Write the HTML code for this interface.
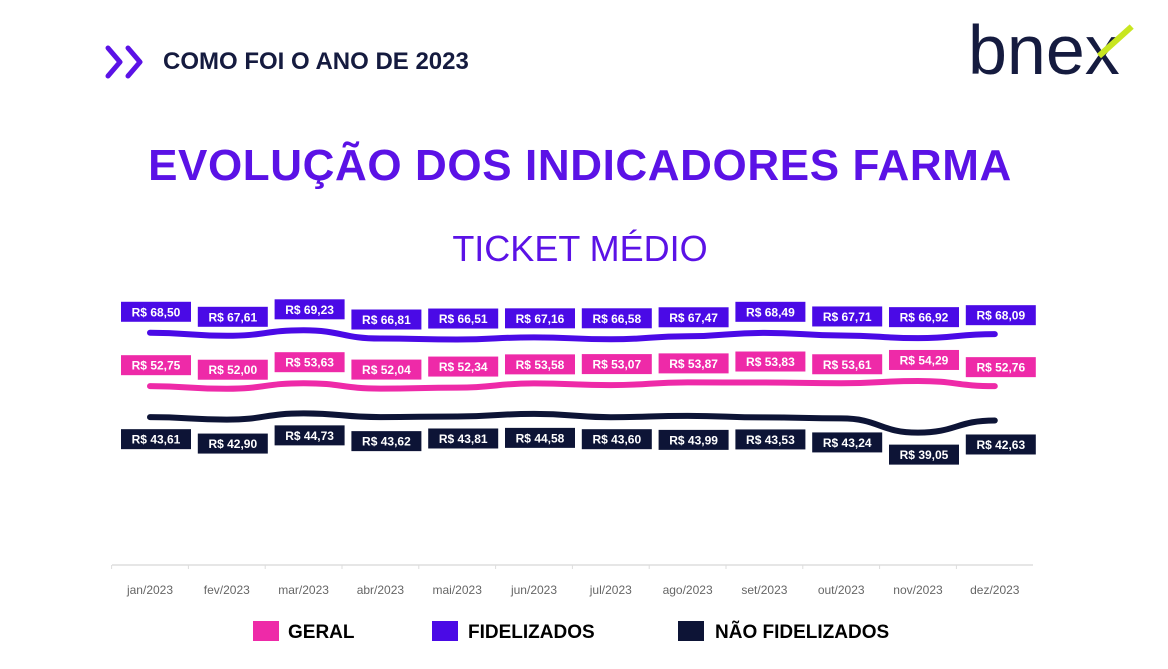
<!DOCTYPE html>
<html><head><meta charset="utf-8"><style>
body{margin:0;width:1168px;height:669px;background:#fff;font-family:"Liberation Sans",sans-serif;overflow:hidden;position:relative}
.abs{position:absolute}
</style></head><body>
<svg class="abs" style="left:104px;top:44px" width="50" height="36">
<polyline points="4,4 16,18 4,32" fill="none" stroke="#5b12e6" stroke-width="5" stroke-linecap="round" stroke-linejoin="round"/>
<polyline points="24,4 36,18 24,32" fill="none" stroke="#5b12e6" stroke-width="5" stroke-linecap="round" stroke-linejoin="round"/></svg>
<div class="abs" style="left:163px;top:48px;font-size:24px;font-weight:bold;color:#151b3f">COMO FOI O ANO DE 2023</div>
<div class="abs" style="left:968px;top:10px;font-size:70px;color:#151b3f;letter-spacing:0px">bne<span style="position:relative">x<span style="position:absolute;left:14px;top:42px;width:44px;height:6px;background:#c8e620;transform:rotate(-42deg);transform-origin:left center"></span></span></div>
<div class="abs" style="left:0;width:1160px;text-align:center;top:141px;font-size:44px;font-weight:bold;color:#5b12e6;letter-spacing:0.6px">EVOLUÇÃO DOS INDICADORES FARMA</div>
<div class="abs" style="left:0;width:1160px;text-align:center;top:228px;font-size:36px;color:#5b12e6">TICKET MÉDIO</div>
<svg id="chart" class="abs" style="left:0;top:0" width="1168" height="669"></svg>
<div class="abs" style="left:253px;top:621px;width:26px;height:20px;background:#ee2aa8"></div>
<div class="abs" style="left:288px;top:622px;font-size:19px;font-weight:bold">GERAL</div>
<div class="abs" style="left:432px;top:621px;width:26px;height:20px;background:#4a0ae6"></div>
<div class="abs" style="left:468px;top:622px;font-size:19px;font-weight:bold">FIDELIZADOS</div>
<div class="abs" style="left:678px;top:621px;width:26px;height:20px;background:#0d1436"></div>
<div class="abs" style="left:715px;top:622px;font-size:19px;font-weight:bold">NÃO FIDELIZADOS</div>
<script>
const categories=["jan/2023","fev/2023","mar/2023","abr/2023","mai/2023","jun/2023","jul/2023","ago/2023","set/2023","out/2023","nov/2023","dez/2023"];
const fidelizados=[68.50,67.61,69.23,66.81,66.51,67.16,66.58,67.47,68.49,67.71,66.92,68.09];
const geral=[52.75,52.00,53.63,52.04,52.34,53.58,53.07,53.87,53.83,53.61,54.29,52.76];
const naoFidelizados=[43.61,42.90,44.73,43.62,43.81,44.58,43.60,43.99,43.53,43.24,39.05,42.63];
const svg=document.getElementById('chart');const NS='http://www.w3.org/2000/svg';
const x=i=>150+i*76.8;const y=v=>565-v*3.39;
function mk(t,a){const e=document.createElementNS(NS,t);for(const k in a)e.setAttribute(k,a[k]);svg.appendChild(e);return e;}
const ax=mk('line',{x1:112,x2:1033,y1:565,y2:565,stroke:'#ddd','stroke-width':1.5});


categories.forEach((c,i)=>{
 const tk=mk('line',{x1:x(i)-38.4,x2:x(i)-38.4,y1:565,y2:569,stroke:'#ddd'});
 
 
 const t=mk('text',{x:x(i),y:594,'text-anchor':'middle','font-size':12,fill:'#666','font-family':'Liberation Sans, sans-serif'});
 t.textContent=c;
 
 
});
const series=[[fidelizados,'#4a0ae6',-21,'fidelizados'],[geral,'#ee2aa8',-21,'geral'],[naoFidelizados,'#0d1436',22,'nao-fidelizados']];
series.forEach(([d,col,off,nm])=>{
 let p='M'+x(0)+','+y(d[0]);
 for(let i=1;i<d.length;i++){const cx=(x(i-1)+x(i))/2;p+=` C${cx},${y(d[i-1])} ${cx},${y(d[i])} ${x(i)},${y(d[i])}`;}
 const l=mk('path',{d:p,fill:'none',stroke:col,'stroke-width':6,'stroke-linecap':'round'});
 
 
 d.forEach((v,i)=>{
  const cy=y(v)+off+(i%2?2:0);
  const r=mk('rect',{x:x(i)-35+6,y:cy-10,width:70,height:20,fill:col});
  
  
  const t=mk('text',{x:x(i)+6,y:cy+4.5,'text-anchor':'middle','font-size':12,'font-weight':'bold',fill:'#fff','font-family':'Liberation Sans, sans-serif'});
  t.textContent='R$ '+v.toFixed(2).replace('.',',');
  
  
 });
});
</script>
</body></html>
